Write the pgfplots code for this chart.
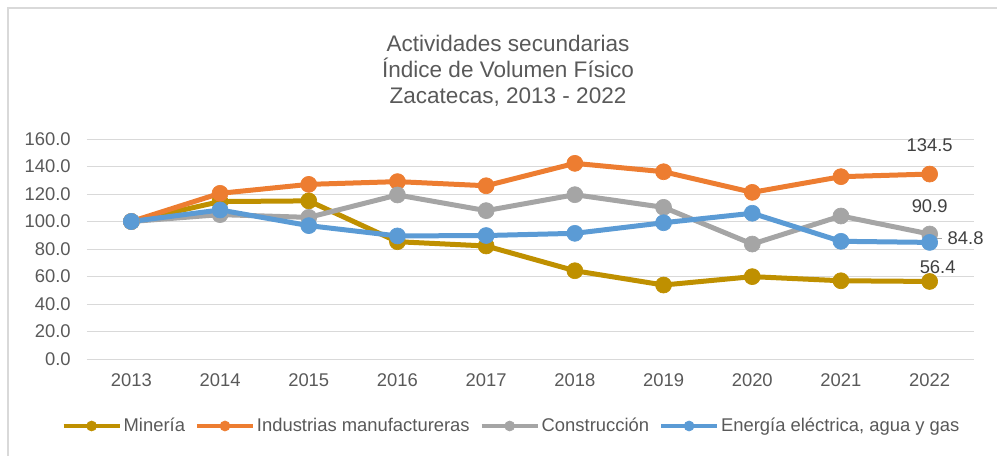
\documentclass[border=0pt]{standalone}
\usepackage{fontspec}
\setmainfont{Liberation Sans}
\usepackage{pgfplots}
\pgfplotsset{compat=1.18}
\definecolor{cgold}{HTML}{BF9000}
\definecolor{corange}{HTML}{ED7D31}
\definecolor{cgray}{HTML}{A5A5A5}
\definecolor{cblue}{HTML}{5B9BD5}
\definecolor{gridc}{HTML}{D9D9D9}
\definecolor{txt}{HTML}{595959}
\definecolor{lbl}{HTML}{404040}
\definecolor{framec}{HTML}{D9D9D9}
\begin{document}
\begin{tikzpicture}
\begin{scope}[x=0.75pt,y=0.75pt]
\useasboundingbox (0,0) rectangle (997,455);
\draw[framec, line width=1.2pt] (8,-20) -- (8,447) -- (1020,447);
\node[anchor=base, text=txt, font=\fontsize{16.9}{19.5}\selectfont] at (508,404) {Actividades secundarias};
\node[anchor=base, text=txt, font=\fontsize{16.9}{19.5}\selectfont] at (508,378) {Índice de Volumen Físico};
\node[anchor=base, text=txt, font=\fontsize{16.9}{19.5}\selectfont] at (508,352) {Zacatecas, 2013 - 2022};
\end{scope}
\begin{axis}[
  at={(65.25pt,72pt)}, anchor=south west,
  scale only axis, width=665.25pt, height=165pt,
  xmin=-0.5, xmax=9.5, ymin=0, ymax=160,
  xtick={0,...,9},
  xticklabels={2013,2014,2015,2016,2017,2018,2019,2020,2021,2022},
  ytick={0,20,...,160},
  /pgf/number format/assume math mode=true,
  yticklabel style={/pgf/number format/fixed, /pgf/number format/fixed zerofill, /pgf/number format/precision=1},
  ymajorgrids, grid style={gridc, line width=0.75pt},
  axis line style={draw=none},
  major tick length=0pt,
  tick label style={font=\fontsize{13.8}{16}\selectfont, text=txt},
  yticklabel style={anchor=east, inner sep=0pt, xshift=-12pt},
  xticklabel style={anchor=north, inner sep=0pt, yshift=-11pt},
  every axis plot/.append style={line width=3.75pt, mark=*, mark size=6pt},
  legend columns=4,
  legend style={draw=none, fill=none, at={(rel axis cs:0.4786,-0.3045)}, anchor=center,
    font=\fontsize{13.8}{16}\selectfont, text=txt,
    nodes={inner sep=1.5pt},
    /tikz/every even column/.append style={column sep=6pt}},
  legend image code/.code={
    \draw[#1, line width=3pt, mark=none] (0pt,0pt) -- (42pt,0pt);
    \draw[#1, mark size=3.75pt] plot coordinates {(21pt,0pt)};
  },
  clip=false,
]
\addplot[cgold, mark options={fill=cgold, draw=cgold, line width=0.5pt}] coordinates {
(0,100) (1,114.5) (2,115) (3,85.3) (4,82.2) (5,64.2) (6,53.8) (7,59.9) (8,56.9) (9,56.4)};
\addlegendentry{Minería}
\addplot[corange, mark options={fill=corange, draw=corange, line width=0.5pt}] coordinates {
(0,100) (1,120.5) (2,127) (3,129) (4,126) (5,142.3) (6,136.2) (7,121.2) (8,132.6) (9,134.5)};
\addlegendentry{Industrias manufactureras}
\addplot[cgray, mark options={fill=cgray, draw=cgray, line width=0.5pt}] coordinates {
(0,100) (1,105) (2,103) (3,119.3) (4,107.9) (5,119.5) (6,110.3) (7,83.6) (8,104) (9,90.9)};
\addlegendentry{Construcción}
\addplot[cblue, mark options={fill=cblue, draw=cblue, line width=0.5pt}] coordinates {
(0,100) (1,108.4) (2,97) (3,89.5) (4,89.8) (5,91.4) (6,99.1) (7,106) (8,85.6) (9,84.8)};
\addlegendentry{Energía eléctrica, agua y gas}
\node[text=lbl, font=\fontsize{13.8}{16}\selectfont] at ([yshift=21.75pt]axis cs:9,134.5) {134.5};
\node[text=lbl, font=\fontsize{13.8}{16}\selectfont] at ([yshift=21pt]axis cs:9,90.9) {90.9};
\node[text=lbl, font=\fontsize{13.8}{16}\selectfont] at ([xshift=6pt,yshift=11pt]axis cs:9,56.4) {56.4};
\draw[cgray, line width=0.75pt] ([xshift=1.5pt,yshift=3pt]axis cs:9,84.8) -- ([xshift=9pt,yshift=3pt]axis cs:9,84.8);
\node[text=lbl, font=\fontsize{13.8}{16}\selectfont, anchor=west] at ([xshift=10pt,yshift=3pt]axis cs:9,84.8) {84.8};
\end{axis}
\end{tikzpicture}
\end{document}
